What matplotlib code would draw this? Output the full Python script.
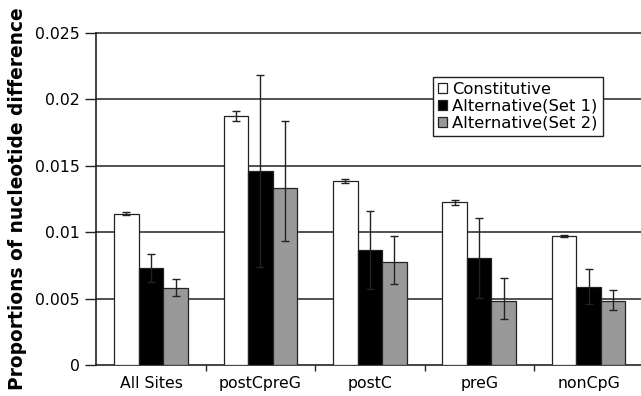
import matplotlib
matplotlib.use("Agg")
import matplotlib.pyplot as plt
import numpy as np

categories = ["All Sites", "postCpreG", "postC", "preG", "nonCpG"]
series_names = ["Constitutive", "Alternative(Set 1)", "Alternative(Set 2)"]

constitutive = [0.0114, 0.01875, 0.01388, 0.01225, 0.00971]
const_err_lo = [0.0001, 0.0004, 0.00015, 0.0002, 0.00005]
const_err_hi = [0.0001, 0.0004, 0.00015, 0.0002, 0.00005]

alt_set1 = [0.00733, 0.01461, 0.00866, 0.00806, 0.0059]
set1_err_lo = [0.00105, 0.0072, 0.0029, 0.003, 0.0013]
set1_err_hi = [0.00105, 0.0072, 0.0029, 0.003, 0.0013]

alt_set2 = [0.00582, 0.01335, 0.00773, 0.00482, 0.00482]
set2_err_lo = [0.00065, 0.0040, 0.00165, 0.00136, 0.0007]
set2_err_hi = [0.00066, 0.0050, 0.00201, 0.00175, 0.00083]

yticks = [0, 0.005, 0.01, 0.015, 0.02, 0.025]
ytick_labels = ["0", "0.005", "0.01", "0.015", "0.02", "0.025"]

plt.rcParams["font.family"] = "DejaVu Sans"

fig = plt.figure(figsize=(6.41, 3.96), dpi=100)
ax = fig.add_axes([96.3 / 641, 1 - 365 / 396, 547 / 641, 332 / 396])

x = np.arange(len(categories))
w = 0.224
colors = ["white", "black", "#999999"]
values = [constitutive, alt_set1, alt_set2]
errs = [(const_err_lo, const_err_hi), (set1_err_lo, set1_err_hi), (set2_err_lo, set2_err_hi)]

for k in range(3):
    ax.bar(x + (k - 1) * w, values[k], width=w, color=colors[k], edgecolor="#222222",
           linewidth=0.9, label=series_names[k], zorder=3,
           yerr=[errs[k][0], errs[k][1]],
           error_kw=dict(ecolor="#222222", elinewidth=1.0, capsize=3.2, capthick=1.0, zorder=4))

# horizontal gridlines
for yv in yticks[1:]:
    ax.axhline(yv, color="#333333", linewidth=1.2, zorder=1, clip_on=False)

ax.set_xlim(-0.5, len(categories) - 0.5)
ax.set_ylim(0, 0.025)
ax.set_yticks(yticks)
ax.set_yticklabels(ytick_labels, fontsize=11.3)
ax.set_xticks(x)
ax.set_xticklabels(categories, fontsize=11.3)
ax.set_xticks(np.arange(0.5, len(categories) - 0.5, 1), minor=True)
ax.tick_params(axis="x", which="major", length=0, pad=8)
ax.tick_params(axis="x", which="minor", length=4, width=1.0, direction="out", color="#222222")
ax.tick_params(axis="y", length=8, width=1.0, direction="out", color="#222222", pad=4)

for side in ["top", "right"]:
    ax.spines[side].set_visible(False)
for side in ["left", "bottom"]:
    ax.spines[side].set_color("#222222")
    ax.spines[side].set_linewidth(1.2)

ax.set_ylabel("Proportions of nucleotide difference", fontsize=13.4, fontweight="bold")
ax.yaxis.set_label_coords(-0.127, 0.5)

leg = ax.legend(loc="upper left", bbox_to_anchor=(0.615, 0.868), borderaxespad=0,
                fancybox=False, framealpha=1, edgecolor="#222222", fontsize=11.8,
                handlelength=0.6, handleheight=0.6, handletextpad=0.3,
                labelspacing=0.12, borderpad=0.3)
leg.get_frame().set_linewidth(1.0)
leg.set_zorder(5)

fig.savefig("out.png", dpi=100)
